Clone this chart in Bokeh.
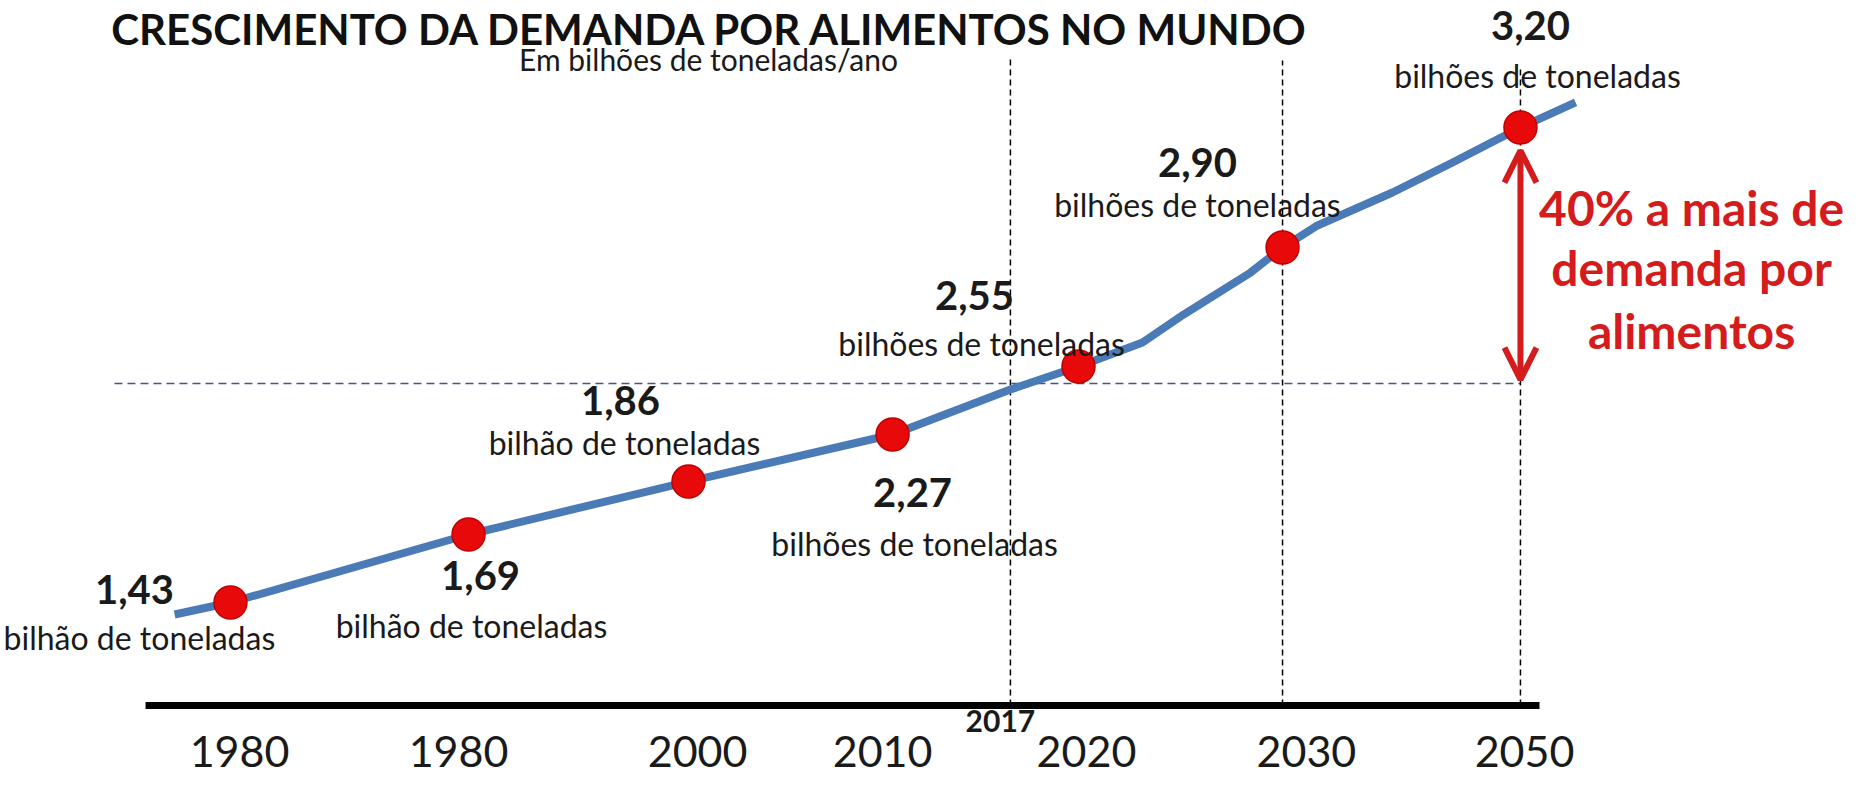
import numpy as np
from bokeh.plotting import figure
from bokeh.models import ColumnDataSource, Arrow, OpenHead
from bokeh.core.properties import value
from bokeh.embed import file_html
from bokeh.resources import INLINE

# ---------------- data ----------------
title = "CRESCIMENTO DA DEMANDA POR ALIMENTOS NO MUNDO"
subtitle = "Em bilhões de toneladas/ano"
years = ["1980", "1980", "2000", "2010", "2020", "2030", "2050"]
values = [1.43, 1.69, 1.86, 2.27, 2.55, 2.90, 3.20]
units = ["bilhão de toneladas", "bilhão de toneladas", "bilhão de toneladas",
         "bilhões de toneladas", "bilhões de toneladas", "bilhões de toneladas",
         "bilhões de toneladas"]
# schematic drawing: timeline units (0-100) and curve level units (0-100)
point_pos = [12.43, 25.30, 37.19, 48.22, 58.27, 69.30, 82.16]
point_level = [22.72, 31.45, 38.25, 44.29, 53.02, 68.29, 83.70]
trend_pos = [9.41, 12.43, 25.30, 37.19, 48.22, 54.59, 58.27, 61.73, 63.95,
             67.57, 69.30, 71.19, 75.24, 78.49, 82.16, 85.14]
trend_level = [21.18, 22.72, 31.45, 38.25, 44.29, 50.06, 53.02, 56.10, 59.69,
               65.08, 68.29, 71.12, 75.35, 79.20, 83.70, 86.91]
year_tick_pos = [12.92, 24.76, 37.68, 47.68, 58.70, 70.59, 82.38]
marker_years = ["2017", "2030", "2050"]
marker_pos = [54.59, 69.30, 82.16]
base_level = 50.83          # level of demand in 2017 (horizontal reference)
timeline_start, timeline_end = 7.84, 83.19
annotation_lines = ["40% a mais de", "demanda por", "alimentos"]

# ---------------- layout (offsets / positions of texts) ----------------
val_dx = [-5.19, 0.65, -3.68, 1.08, -5.62, -4.60, 0.54]
val_dy = [1.67, -5.26, 10.40, -7.45, 9.11, 10.91, 13.09]
unit_dx = [-4.92, 0.16, -3.46, 1.19, -5.24, -4.60, 0.92]
unit_dy = [-4.49, -11.68, 5.01, -13.99, 2.95, 5.52, 6.67]
axis_level = 9.50
year_label_level = 3.6
marker_tops = [92.43, 92.30, 91.14]
FONT = value("Lato")
TXT = "#1a1a1a"
RED = "#d41c1c"

p = figure(width=1850, height=779, x_range=(0, 100), y_range=(0, 100),
           x_axis_location=None, y_axis_location=None,
           toolbar_location=None, output_backend="svg", min_border=0)
p.grid.visible = False
p.outline_line_color = None
p.background_fill_color = "white"
p.border_fill_color = "white"

# horizontal reference dashed line (2017 level)
p.segment(x0=[6.16], y0=[base_level], x1=[marker_pos[2]], y1=[base_level],
          line_color="#3c5a85", line_width=1.5, line_dash="8 5")

# vertical dashed year markers
p.segment(x0=marker_pos, y0=[axis_level] * 3, x1=marker_pos, y1=marker_tops,
          line_color="black", line_width=1.5, line_dash="6 4")

# baseline (timeline axis)
p.segment(x0=[timeline_start], y0=[axis_level], x1=[timeline_end], y1=[axis_level],
          line_color="black", line_width=7)

# trend curve
p.line(trend_pos, trend_level, line_width=8, line_color="#4a7bb7",
       line_join="round")

# red points
p.scatter(point_pos, point_level, size=33, fill_color="#e80a0a",
          line_color="#c00000", line_width=1.5)

# value labels
vsrc = ColumnDataSource(dict(
    x=np.array(point_pos) + np.array(val_dx),
    y=np.array(point_level) + np.array(val_dy),
    t=[f"{v:.2f}".replace(".", ",") for v in values]))
p.text(x="x", y="y", text="t", source=vsrc, text_font=FONT,
       text_font_style="bold", text_font_size="40px", text_color=TXT,
       text_align="center", text_baseline="middle")

usrc = ColumnDataSource(dict(
    x=np.array(point_pos) + np.array(unit_dx),
    y=np.array(point_level) + np.array(unit_dy),
    t=units))
p.text(x="x", y="y", text="t", source=usrc, text_font=FONT,
       text_font_size="32px", text_color=TXT,
       text_align="center", text_baseline="middle")

# year labels
p.text(x=year_tick_pos, y=[year_label_level] * len(years), text=years,
       text_font=FONT, text_font_size="43px", text_color=TXT,
       text_align="center", text_baseline="middle")
p.text(x=[marker_pos[0] - 0.54], y=[7.45], text=[marker_years[0]],
       text_font=FONT, text_font_style="bold", text_font_size="30px",
       text_color=TXT, text_align="center", text_baseline="middle")

# title & subtitle
p.text(x=[38.38], y=[96.3], text=[title], text_font=FONT,
       text_font_style="bold", text_font_size="42px", text_color="#111111",
       text_align="center", text_baseline="middle")
p.text(x=[38.27], y=[92.45], text=[subtitle], text_font=FONT,
       text_font_size="30px", text_color=TXT,
       text_align="center", text_baseline="middle")

# red double arrow: growth 2017 -> 2050
arrow_x = point_pos[-1]
p.add_layout(Arrow(x_start=arrow_x, y_start=base_level + 0.5,
                   x_end=arrow_x, y_end=point_level[-1] - 2.96,
                   line_color=RED, line_width=6,
                   start=OpenHead(size=32, line_color=RED, line_width=6),
                   end=OpenHead(size=32, line_color=RED, line_width=6)))

p.text(x=[91.41] * 3, y=[73.43, 65.73, 57.64], text=annotation_lines,
       text_font=FONT, text_font_style="bold", text_font_size="48px",
       text_color=RED, text_align="center", text_baseline="middle")

open("out.html", "w").write(file_html(p, INLINE))
